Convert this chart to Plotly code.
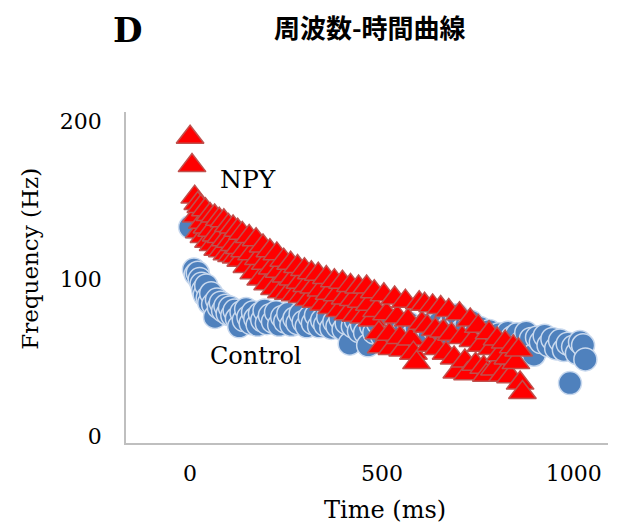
import plotly.graph_objects as go

# Control (blue circles): time (ms), frequency (Hz)
control_t = [0, 10, 15, 20, 25, 30, 34, 38, 42, 46, 50, 55, 60, 65, 70, 75, 80, 86, 92, 98,
             104, 110, 116, 122, 128, 134, 140, 146, 152, 158, 164, 170, 176, 182, 188, 194, 200,
             208, 216, 224, 232, 240, 248, 256, 264, 272, 280, 288, 296, 304, 312, 320, 328, 336,
             344, 352, 360, 368, 376, 384, 392, 400, 408, 416, 424, 432, 440, 448, 456, 464, 472,
             480, 490, 500, 510, 520, 530, 540, 550, 560, 570, 580, 590, 600, 612, 624, 636, 648,
             660, 672, 684, 696, 708, 720, 732, 744, 756, 768, 780, 792, 804, 816, 828, 840, 852,
             864, 876, 888, 896, 904, 914, 924, 934, 944, 954, 964, 974, 984, 990, 998, 1008, 1016,
             1024, 1030]
control_f = [133, 106, 103, 104, 100, 97, 93, 90, 96, 88, 85, 91, 84, 76, 87, 82, 85, 80, 83, 78,
             82, 77, 80, 75, 70, 79, 74, 81, 76, 72, 79, 75, 71, 78, 74, 80, 72,
             77, 73, 79, 71, 76, 73, 78, 71, 75, 72, 78, 73, 70, 76, 72, 77, 70,
             74, 71, 76, 69, 73, 70, 75, 68, 72, 59, 70, 74, 67, 71, 66, 58, 70,
             66, 72, 64, 69, 73, 65, 70, 63, 68, 72, 64, 69, 66, 71, 64, 68, 72,
             65, 69, 75, 77, 67, 71, 73, 66, 69, 64, 67, 62, 65, 61, 66, 63, 65,
             60, 66, 62, 52, 63, 60, 64, 58, 62, 56, 61, 55, 59, 34, 57, 53, 60,
             58, 49]

# NPY (red triangles): time (ms), frequency (Hz)
npy_t = [0, 5, 12, 16, 20, 24, 28, 32, 36, 40, 44, 48, 52, 56, 60,
         64, 68, 72, 76, 80, 84, 88, 92, 96, 100, 104, 108, 112, 116, 120, 124, 128, 132,
         136, 142, 148, 154, 160, 166, 172, 178, 184, 190, 196, 202, 208, 214, 220, 226, 232, 238,
         244, 250, 256, 262, 268, 274, 280, 286, 292, 298, 304, 310, 316, 322, 328,
         334, 341, 348, 355, 362, 369, 376, 383, 390, 397, 404, 411, 418, 425, 432, 439, 446,
         453, 460, 467, 474,
         480, 486, 492, 498, 505, 512, 519, 526, 533, 540, 547, 554, 561, 568, 575, 582, 590,
         597, 604,
         611, 618, 625, 632, 639, 646, 653, 660, 667, 674, 681, 688, 695, 702,
         709, 716, 723, 730, 737, 744, 751, 758, 765, 772, 779, 786, 793, 800, 807, 814, 821,
         828, 835, 842, 849, 856, 860, 866]
npy_f = [190, 172, 152, 140, 148, 130, 146, 136, 127, 144, 133, 124, 141, 131, 122,
         140, 128, 119, 138, 127, 118, 137, 125, 116, 134, 124, 115, 133, 122, 114, 131, 120, 112,
         129, 118, 108, 127, 116, 104, 125, 113, 100, 121, 110, 97, 118, 107, 94, 116, 105, 92,
         112, 102, 91, 110, 100, 90, 108, 98, 89, 106, 96, 87, 104, 95, 86,
         103, 93, 84, 101, 91, 82, 99, 90, 80, 98, 88, 78, 96, 87, 77, 95, 86,
         76, 95, 84, 74,
         92, 80, 66, 57, 90, 78, 65, 56, 88, 76, 63, 55, 86, 74, 62, 53, 47,
         85, 72,
         84, 70, 58, 83, 68, 56, 82, 67, 53, 80, 65, 50, 41, 78,
         63, 48, 40, 74, 61, 46, 70, 58, 44, 39, 66, 56, 43, 62, 52, 39, 60,
         50, 38, 57, 47, 55, 34, 28]

x_ticks = [0, 500, 1000]
y_ticks = [0, 100, 200]

serif = "DejaVu Serif"

fig = go.Figure()
fig.add_trace(go.Scatter(
    x=control_t, y=control_f, mode="markers", name="Control",
    marker=dict(symbol="circle", size=23, color="#4F81BD",
                line=dict(color="#C9D9EE", width=1.5)),
))
fig.add_trace(go.Scatter(
    x=npy_t, y=npy_f, mode="markers", name="NPY",
    marker=dict(symbol="triangle-up", size=24, color="#FF0000",
                line=dict(color="#C0504D", width=1.5)),
))

fig.update_layout(
    width=620, height=526,
    margin=dict(l=118, r=20, t=104, b=91),
    paper_bgcolor="white", plot_bgcolor="white",
    showlegend=False,
    font=dict(family=serif, color="black", size=22),
    xaxis=dict(range=[-167, 1089], tickvals=x_ticks, showgrid=False, zeroline=False,
               showline=True, linecolor="#BFBFBF", linewidth=1.5, ticks="",
               ticklabelstandoff=10, tickfont=dict(family=serif, size=22)),
    yaxis=dict(range=[-4, 206], tickvals=y_ticks, showgrid=False, zeroline=False,
               showline=True, linecolor="#BFBFBF", linewidth=1.5, ticks="",
               ticklabelstandoff=18, tickfont=dict(family=serif, size=22)),
    annotations=[
        dict(text="Time (ms)", xref="paper", yref="paper", x=0.537, y=-0.202,
             xanchor="center", yanchor="middle", showarrow=False,
             font=dict(family=serif, size=24)),
        dict(text="Frequency (Hz)", xref="paper", yref="paper", x=-0.199, y=0.557,
             xanchor="center", yanchor="middle", showarrow=False, textangle=-90,
             font=dict(family=serif, size=23)),
        dict(text="<b>D</b>", xref="paper", yref="paper", x=0.004, y=1.248,
             xanchor="center", yanchor="middle", showarrow=False,
             font=dict(family=serif, size=34)),
        dict(text="<b>周波数-時間曲線</b>", xref="paper", yref="paper", x=0.506, y=1.257,
             xanchor="center", yanchor="middle", showarrow=False,
             font=dict(family="Noto Sans CJK JP", size=26)),
        dict(text="NPY", x=150, y=163, xanchor="center", yanchor="middle", showarrow=False,
             font=dict(family=serif, size=25)),
        dict(text="Control", x=172, y=51, xanchor="center", yanchor="middle", showarrow=False,
             font=dict(family=serif, size=24)),
    ],
)

fig.write_html("out.html")
